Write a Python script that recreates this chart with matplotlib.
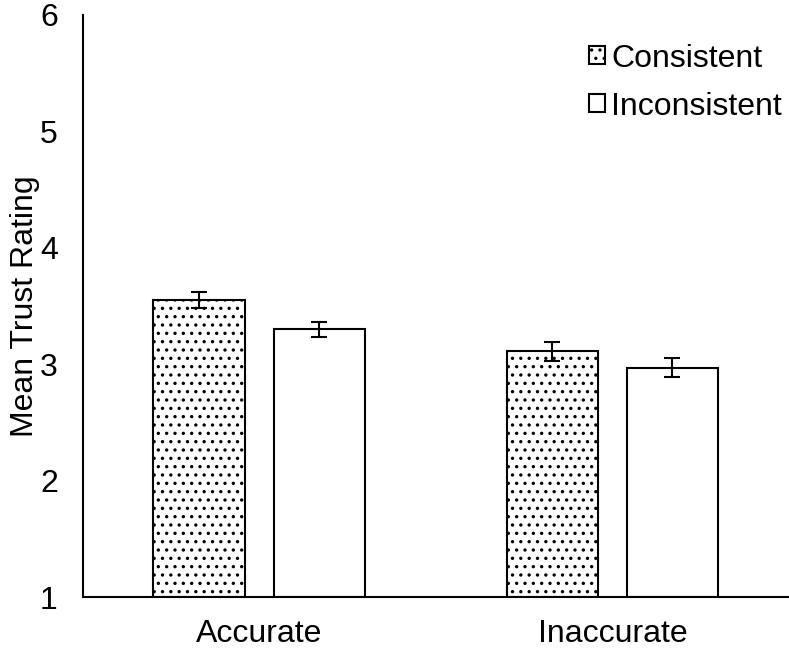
import matplotlib
matplotlib.use("Agg")
import matplotlib.pyplot as plt
import numpy as np

categories = ["Accurate", "Inaccurate"]
consistent = [3.55, 3.11]
inconsistent = [3.30, 2.97]
consistent_err = [0.067, 0.08]
inconsistent_err = [0.066, 0.082]

plt.rcParams['font.family'] = ['Liberation Sans', 'DejaVu Sans']
plt.rcParams['hatch.linewidth'] = 1.2

fig = plt.figure(figsize=(7.89, 6.5), dpi=100)
ax = fig.add_axes([0.105, 0.0815, 0.895, 0.8955])

x = np.arange(len(categories))
width = 0.26
offset = 0.17
fs = 23

ax.bar(x - offset, np.array(consistent) - 1, width, bottom=1,
       color='white', edgecolor='black', linewidth=1.5, hatch='..',
       label='Consistent')
ax.bar(x + offset, np.array(inconsistent) - 1, width, bottom=1,
       color='white', edgecolor='black', linewidth=1.5,
       label='Inconsistent')
ax.errorbar(x - offset, consistent, yerr=consistent_err, fmt='none',
            ecolor='black', elinewidth=1.5, capsize=5.5, capthick=1.5)
ax.errorbar(x + offset, inconsistent, yerr=inconsistent_err, fmt='none',
            ecolor='black', elinewidth=1.5, capsize=5.5, capthick=1.5)

ax.set_xlim(-0.5, 1.5)
ax.set_ylim(1, 6)
ax.set_xticks(x)
ax.set_xticklabels(categories)
ax.set_yticks([1, 2, 3, 4, 5, 6])
ax.tick_params(axis='both', length=0, labelsize=fs)
ax.tick_params(axis='y', pad=18)
ax.tick_params(axis='x', pad=16)
ax.set_ylabel("Mean Trust Rating", fontsize=fs)
ax.yaxis.set_label_coords(-0.06, 0.5)

for side in ['top', 'right']:
    ax.spines[side].set_visible(False)
ax.spines['left'].set_linewidth(1.5)
ax.spines['bottom'].set_linewidth(1.5)

ax.legend(loc='upper right', bbox_to_anchor=(1.031, 1.0), frameon=False,
          fontsize=fs, handlelength=0.5, handleheight=0.5, handletextpad=0.2,
          labelspacing=0.56, borderaxespad=0.5)

fig.savefig("out.png", dpi=100)
